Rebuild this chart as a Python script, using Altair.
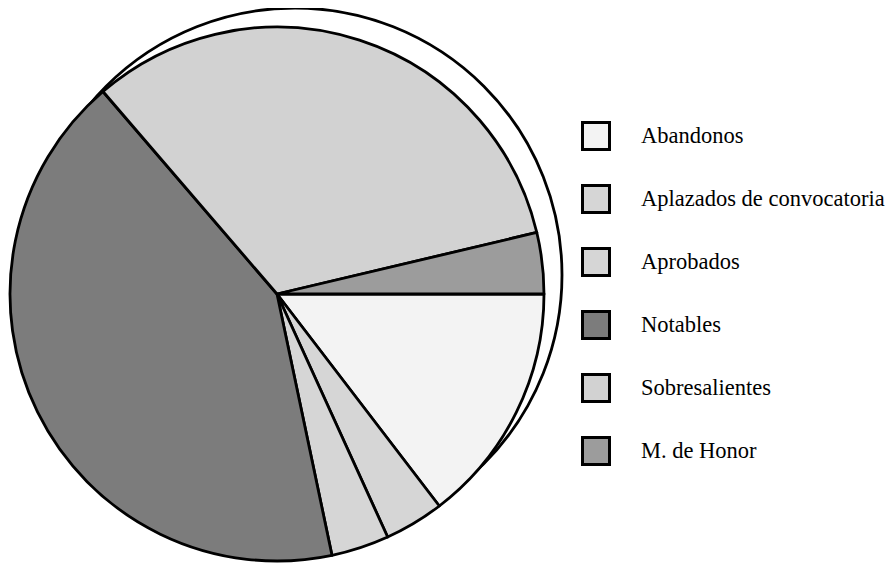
import math
import altair as alt
import pandas as pd

categories = ["Abandonos", "Aplazados de convocatoria", "Aprobados",
              "Notables", "Sobresalientes", "M. de Honor"]
values = [14.6, 3.6, 3.5, 42.0, 32.6, 3.7]
fills = ["#f3f3f3", "#d6d6d6", "#d6d6d6", "#7c7c7c", "#d2d2d2", "#9c9c9c"]

df = pd.DataFrame({"cat": categories, "value": values, "idx": list(range(len(values)))})
df_total = pd.DataFrame({"total": [sum(values)]})

CX, CY, R = 269, 286, 267
DX, DY = 18, -19

shadow = alt.Chart(df_total).mark_arc(
    radius=R, fill="white", stroke="black", strokeWidth=2.8
).encode(
    theta=alt.Theta("total:Q"),
    x=alt.value(CX + DX),
    y=alt.value(CY + DY),
)

pie = alt.Chart(df).mark_arc(
    radius=R, stroke="black", strokeWidth=2.8, strokeJoin="round"
).encode(
    theta=alt.Theta("value:Q", stack=True,
                    scale=alt.Scale(range=[math.pi / 2, math.pi / 2 + 2 * math.pi])),
    order=alt.Order("idx:Q"),
    color=alt.Color(
        "cat:N",
        sort=categories,
        scale=alt.Scale(domain=categories, range=fills),
        legend=alt.Legend(
            title=None,
            orient="none",
            legendX=573,
            legendY=113,
            symbolType="square",
            symbolSize=729,
            symbolStrokeColor="black",
            symbolStrokeWidth=3,
            symbolOpacity=1,
            labelFont="Liberation Serif",
            labelFontSize=22.5,
            labelColor="black",
            labelLimit=400,
            labelOffset=30,
            rowPadding=23,
        ),
    ),
    x=alt.value(CX),
    y=alt.value(CY),
)

chart = alt.layer(shadow, pie).properties(
    width=879, height=557, padding=0,
    autosize=alt.AutoSizeParams(type="none"),
).configure_view(stroke=None)

chart.save("out.html", embed_options={"renderer": "svg", "actions": False})
